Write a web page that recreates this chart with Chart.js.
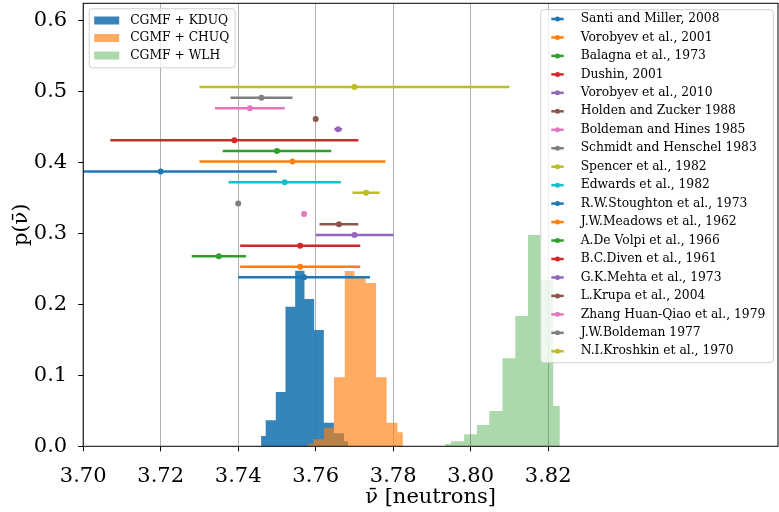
<!DOCTYPE html>
<html>
<head>
<meta charset="utf-8">
<script src="https://cdn.jsdelivr.net/npm/chart.js@4.4.0/dist/chart.umd.min.js"></script>
<style>
html, body { margin: 0; padding: 0; background: #fff; }
</style>
</head>
<body>
<canvas id="chart" width="779" height="512"></canvas>
<script>
// axis ticks
const xTicks = [3.70, 3.72, 3.74, 3.76, 3.78, 3.80, 3.82];
const yTicks = [0.0, 0.1, 0.2, 0.3, 0.4, 0.5, 0.6];

// histograms (bin edges + heights)
const kduqEdges = [3.7459, 3.7471, 3.7497, 3.7522, 3.7547, 3.7571, 3.7596, 3.7621, 3.7647, 3.7673, 3.7684];
const kduqHeights = [0.0145, 0.0366, 0.0765, 0.1966, 0.2474, 0.2075, 0.1638, 0.0330, 0.0183, 0.0070];

const chuqEdges = [3.7580, 3.7594, 3.7621, 3.7647, 3.7675, 3.7700, 3.7729, 3.7756, 3.7783, 3.7811, 3.7825];
const chuqHeights = [0.0032, 0.0098, 0.0260, 0.0972, 0.2469, 0.2375, 0.2300, 0.0972, 0.0333, 0.0197];

const wlhEdges = [3.7934, 3.7949, 3.7983, 3.8016, 3.8048, 3.8082, 3.8115, 3.8148, 3.8181, 3.8213, 3.8230];
const wlhHeights = [0.0032, 0.0070, 0.0169, 0.0300, 0.0497, 0.1239, 0.1835, 0.2976, 0.2338, 0.0568];

const histLabels = ['CGMF + KDUQ', 'CGMF + CHUQ', 'CGMF + WLH'];

// experiments
const expNames = [
	'Santi and Miller, 2008', 'Vorobyev et al., 2001', 'Balagna et al., 1973', 'Dushin, 2001',
	'Vorobyev et al., 2010', 'Holden and Zucker 1988', 'Boldeman and Hines 1985', 'Schmidt and Henschel 1983',
	'Spencer et al., 1982', 'Edwards et al., 1982', 'R.W.Stoughton et al., 1973', 'J.W.Meadows et al., 1962',
	'A.De Volpi et al., 1966', 'B.C.Diven et al., 1961', 'G.K.Mehta et al., 1973', 'L.Krupa et al., 2004',
	'Zhang Huan-Qiao et al., 1979', 'J.W.Boldeman 1977', 'N.I.Kroshkin et al., 1970'
];
const expCenters = [3.720, 3.754, 3.750, 3.739, 3.7658, 3.760, 3.743, 3.746, 3.770, 3.752,
	3.757, 3.756, 3.735, 3.756, 3.770, 3.766, 3.757, 3.740, 3.773];
const expErrors = [0.030, 0.024, 0.014, 0.032, 0.001, 0.0, 0.009, 0.008, 0.040, 0.0145,
	0.017, 0.0155, 0.007, 0.0155, 0.010, 0.005, 0.0, 0.0, 0.0035];
const expHeights = [0.387, 0.401, 0.416, 0.431, 0.4465, 0.461, 0.476, 0.491, 0.506, 0.372,
	0.238, 0.253, 0.2676, 0.2825, 0.2976, 0.3127, 0.327, 0.342, 0.357];

const tab10 = ['#1f77b4', '#ff7f0e', '#2ca02c', '#d62728', '#9467bd', '#8c564b', '#e377c2', '#7f7f7f', '#bcbd22', '#17becf'];
const histFills = ['rgba(31,119,180,0.9)', 'rgba(255,127,14,0.65)', 'rgba(44,160,44,0.4)'];

const serif = '"DejaVu Serif", "Liberation Serif", serif';

function stepPoints(edges, heights) {
	const pts = [{x: edges[0], y: 0}];
	heights.forEach((h, i) => pts.push({x: edges[i], y: h}));
	pts.push({x: edges[edges.length - 1], y: 0});
	return pts;
}

function histDataset(edges, heights, i) {
	return {
		label: histLabels[i],
		data: stepPoints(edges, heights),
		stepped: true,
		fill: 'origin',
		backgroundColor: histFills[i],
		borderWidth: 0,
		pointRadius: 0,
		order: 30 - i * 10
	};
}

const datasets = [
	histDataset(kduqEdges, kduqHeights, 0),
	histDataset(chuqEdges, chuqHeights, 1),
	histDataset(wlhEdges, wlhHeights, 2)
];

expNames.forEach((name, i) => {
	const c = expCenters[i], e = expErrors[i], y = expHeights[i];
	const col = tab10[i % 10];
	datasets.push({
		label: name,
		data: [{x: c - e, y: y}, {x: c, y: y}, {x: c + e, y: y}],
		borderColor: col,
		backgroundColor: col,
		borderWidth: 2.5,
		pointRadius: [0, 3, 0],
		pointBorderWidth: 0,
		fill: false,
		order: 0
	});
});

function roundRect(ctx, x, y, w, h, r) {
	ctx.beginPath();
	ctx.moveTo(x + r, y);
	ctx.arcTo(x + w, y, x + w, y + h, r);
	ctx.arcTo(x + w, y + h, x, y + h, r);
	ctx.arcTo(x, y + h, x, y, r);
	ctx.arcTo(x, y, x + w, y, r);
	ctx.closePath();
}

const framePlugin = {
	id: 'frameAndLegends',
	afterDraw(chart) {
		const ctx = chart.ctx;
		const ca = chart.chartArea;
		ctx.save();

		// spines
		ctx.strokeStyle = '#000';
		ctx.lineWidth = 1;
		ctx.strokeRect(ca.left, ca.top, ca.right - ca.left, ca.bottom - ca.top);

		ctx.font = '12.3px ' + serif;
		ctx.textBaseline = 'middle';
		ctx.textAlign = 'left';

		// histogram legend (upper left)
		const lx = ca.left + 6, ly = ca.top + 5.5;
		roundRect(ctx, lx, ly, 146, 59, 3);
		ctx.fillStyle = 'rgba(255,255,255,0.8)';
		ctx.fill();
		ctx.strokeStyle = '#d0d0d0';
		ctx.stroke();
		histLabels.forEach((lab, i) => {
			const ry = ly + 11.7 + i * 17.5;
			ctx.fillStyle = histFills[i];
			ctx.fillRect(lx + 5, ry - 4, 25, 8);
			ctx.fillStyle = '#000';
			ctx.fillText(lab, lx + 41, ry);
		});

		// experiment legend (upper right)
		const w2 = 232.6, h2 = 353;
		const rx = ca.right - 4.7 - w2, ry0 = ca.top + 6.4;
		roundRect(ctx, rx, ry0, w2, h2, 3);
		ctx.fillStyle = 'rgba(255,255,255,0.8)';
		ctx.fill();
		ctx.strokeStyle = '#d0d0d0';
		ctx.stroke();
		expNames.forEach((name, i) => {
			const ry = ry0 + 9.3 + i * 18.46;
			const col = tab10[i % 10];
			ctx.strokeStyle = col;
			ctx.lineWidth = 2.5;
			ctx.beginPath();
			ctx.moveTo(rx + 10.6, ry);
			ctx.lineTo(rx + 23, ry);
			ctx.stroke();
			ctx.fillStyle = col;
			ctx.beginPath();
			ctx.arc(rx + 16.8, ry, 2.5, 0, Math.PI * 2);
			ctx.fill();
			ctx.fillStyle = '#000';
			ctx.fillText(name, rx + 40, ry);
		});
		ctx.restore();
	}
};

function noEdgePadding(s) {
	s.paddingTop = 0;
	s.paddingBottom = 0;
	s.paddingLeft = 0;
	s.paddingRight = 0;
}

new Chart(document.getElementById('chart'), {
	type: 'line',
	data: {datasets: datasets},
	options: {
		responsive: false,
		animation: false,
		events: [],
		layout: {padding: {top: 3.3, right: 1, left: 0, bottom: 0}},
		plugins: {
			legend: {display: false},
			tooltip: {enabled: false}
		},
		scales: {
			x: {
				type: 'linear',
				min: 3.70,
				max: 3.8793,
				afterBuildTicks: s => { s.ticks = xTicks.map(v => ({value: v})); },
				afterFit: s => { s.height = 65.7; noEdgePadding(s); },
				grid: {color: '#b0b0b0', lineWidth: 1, tickLength: 5, tickColor: '#000'},
				border: {display: false},
				ticks: {
					font: {family: serif, size: 21},
					color: '#000',
					padding: 13,
					maxRotation: 0,
					autoSkip: false,
					callback: v => v.toFixed(2)
				},
				title: {
					display: true,
					text: 'ν̄ [neutrons]',
					font: {family: serif, size: 21},
					color: '#000',
					padding: {top: 0, bottom: 1.5}
				}
			},
			y: {
				min: 0,
				max: 0.6239,
				afterBuildTicks: s => { s.ticks = yTicks.map(v => ({value: v})); },
				afterFit: s => { s.width = 83.2; noEdgePadding(s); },
				grid: {drawOnChartArea: false, tickLength: 5, tickColor: '#000'},
				border: {display: false},
				ticks: {
					font: {family: serif, size: 21},
					color: '#000',
					padding: 11,
					callback: v => v.toFixed(1)
				},
				title: {
					display: true,
					text: 'p(ν̄)',
					font: {family: serif, size: 21},
					color: '#000',
					padding: {top: 9, bottom: 0}
				}
			}
		}
	},
	plugins: [framePlugin]
});
</script>
</body>
</html>
